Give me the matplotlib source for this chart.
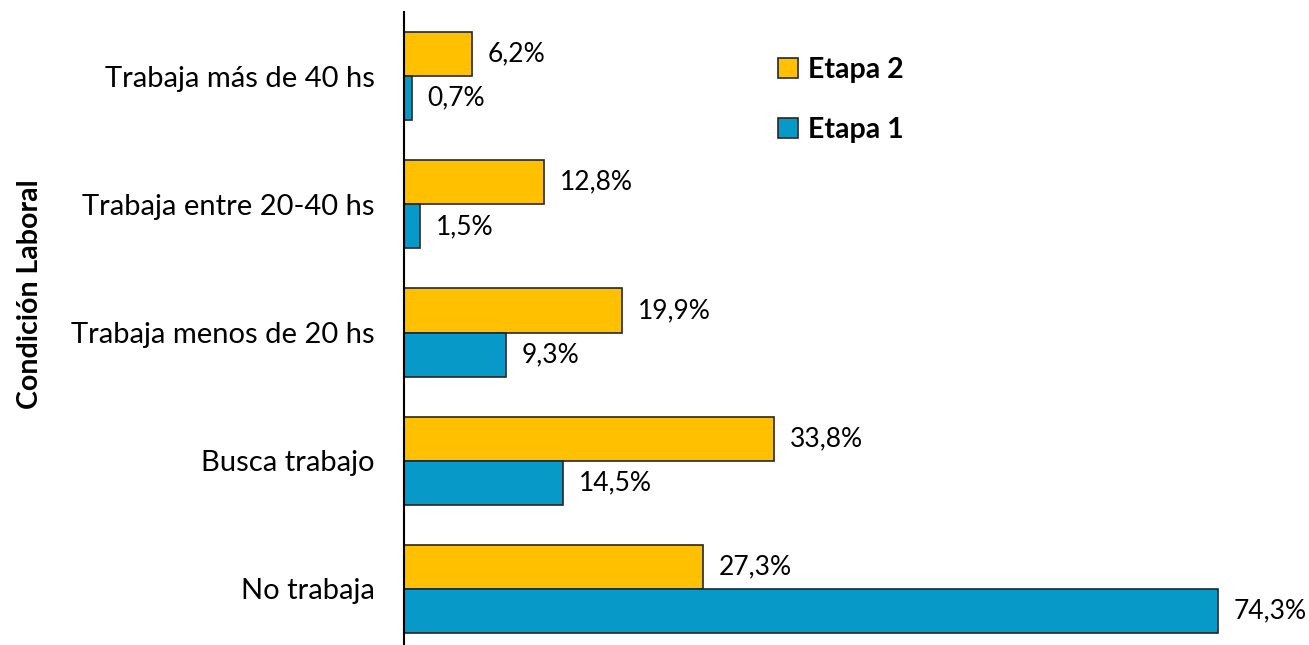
import matplotlib.pyplot as plt
import numpy as np
from matplotlib.patches import Patch

plt.rcParams['font.family'] = ['Lato', 'DejaVu Sans']

categorias = ['Trabaja más de 40 hs', 'Trabaja entre 20-40 hs', 'Trabaja menos de 20 hs',
              'Busca trabajo', 'No trabaja']
etapa2 = [6.2, 12.8, 19.9, 33.8, 27.3]
etapa1 = [0.7, 1.5, 9.3, 14.5, 74.3]

amarillo = '#FFC000'
azul = '#0799C8'
borde = '#262626'

fig = plt.figure(figsize=(13.09, 6.45), dpi=100)
W, H = 1309, 645
ax = fig.add_axes([404 / W, 1 - 653 / H, (W - 404) / W, 641 / H])

y = np.arange(len(categorias))
h = 0.344
ax.barh(y - h / 2, etapa2, height=h, color=amarillo, edgecolor=borde, linewidth=1.2, label='Etapa 2')
ax.barh(y + h / 2, etapa1, height=h, color=azul, edgecolor=borde, linewidth=1.2, label='Etapa 1')

for yi, v in zip(y, etapa2):
    ax.text(v + 1.45, yi - h / 2, f'{v:.1f}%'.replace('.', ','), va='center', ha='left', fontsize=19)
for yi, v in zip(y, etapa1):
    ax.text(v + 1.45, yi + h / 2, f'{v:.1f}%'.replace('.', ','), va='center', ha='left', fontsize=19)

ax.set_xlim(0, (W - 404) / 10.956)
ax.set_ylim(4.5, -0.5)
ax.set_yticks(y)
ax.set_yticklabels(categorias, fontsize=21)
ax.tick_params(axis='y', length=0, pad=21)
ax.set_xticks([])
for s in ['top', 'right', 'bottom']:
    ax.spines[s].set_visible(False)
ax.spines['left'].set_linewidth(1.5)
ax.spines['left'].set_color('black')

fig.text(30 / W, 1 - 294 / H, 'Condición Laboral', rotation=90, fontsize=20.5,
         fontweight='bold', ha='center', va='center')

handles = [Patch(facecolor=amarillo, edgecolor=borde, linewidth=1.2, label='Etapa 2'),
           Patch(facecolor=azul, edgecolor=borde, linewidth=1.2, label='Etapa 1')]
fig.legend(handles=handles, loc='upper left', bbox_to_anchor=(752 / W, 1 - 31 / H),
           frameon=False, prop={'weight': 'bold', 'size': 20.5}, handlelength=0.7,
           handleheight=0.7, handletextpad=0.35, labelspacing=1.2)

fig.savefig('out.png', dpi=100)
